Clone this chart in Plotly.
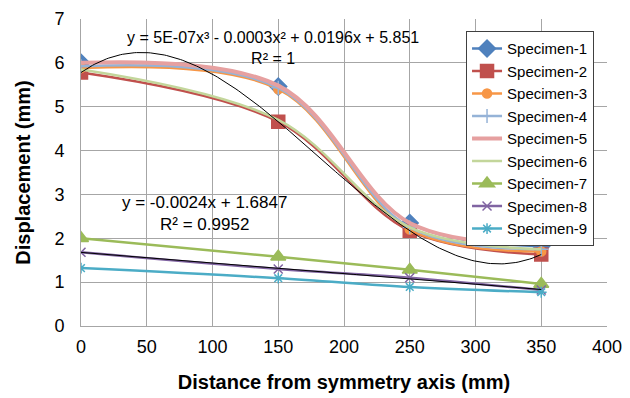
import numpy as np
import plotly.graph_objects as go

x_pos = [0, 150, 250, 350]
names = ["Specimen-1", "Specimen-2", "Specimen-3", "Specimen-4", "Specimen-5",
         "Specimen-6", "Specimen-7", "Specimen-8", "Specimen-9"]
s1 = [6.00, 5.46, 2.35, 1.82]
s2 = [5.78, 4.66, 2.17, 1.63]
s3 = [5.88, 5.40, 2.20, 1.70]
s4 = [5.92, 5.43, 2.25, 1.75]
s5 = [6.00, 5.48, 2.35, 1.88]
s6 = [5.85, 4.70, 2.25, 1.75]
s7 = [2.00, 1.58, 1.28, 0.96]
s8 = [1.68, 1.30, 1.10, 0.82]
s9 = [1.32, 1.09, 0.89, 0.77]
series = [s1, s2, s3, s4, s5, s6, s7, s8, s9]
colors = ["#4F81BD", "#C0504D", "#F79646", "#95B3D7", "#E6A0A0",
          "#C3D69B", "#9BBB59", "#8064A2", "#4BACC6"]
symbols = ["diamond", "square", "circle", "cross-thin", None, None,
           "triangle-up", "x-thin", "asterisk"]
msizes = [13, 13, 9, 10, 0, 0, 13, 9, 9]
widths = [2.5, 2.5, 2.5, 2.5, 4, 2.5, 2.5, 2.5, 2.5]
x_ticks = [0, 50, 100, 150, 200, 250, 300, 350, 400]
y_ticks = [0, 1, 2, 3, 4, 5, 6, 7]

fig = go.Figure()
for i in range(9):
    sym = symbols[i]
    mode = "lines+markers" if sym else "lines"
    marker = dict(symbol=sym, size=msizes[i], color=colors[i],
                  line=dict(width=1.5, color=colors[i])) if sym else None
    fig.add_trace(go.Scatter(
        x=x_pos, y=series[i], name=names[i], mode=mode,
        line=dict(color=colors[i], width=widths[i], shape="spline", smoothing=1.0),
        marker=marker))

# trendlines
xs = np.linspace(0, 350, 200)
c3 = np.polyfit(x_pos, s2, 3)
fig.add_trace(go.Scatter(x=xs, y=np.polyval(c3, xs), mode="lines",
                         line=dict(color="black", width=1), showlegend=False))
c1 = np.polyfit(x_pos, s8, 1)
fig.add_trace(go.Scatter(x=xs, y=np.polyval(c1, xs), mode="lines",
                         line=dict(color="black", width=1), showlegend=False))

font = "Liberation Sans, Arial, sans-serif"
fig.add_annotation(x=0.365, y=0.975, xref="paper", yref="paper", showarrow=False,
                   text="y = 5E-07x³ - 0.0003x² + 0.0196x + 5.851<br>R² = 1",
                   font=dict(family=font, size=16, color="black"),
                   align="center", xanchor="center", yanchor="top")
fig.add_annotation(x=0.235, y=0.44, xref="paper", yref="paper", showarrow=False,
                   text="y = -0.0024x + 1.6847<br>R² = 0.9952",
                   font=dict(family=font, size=17, color="black"),
                   align="center", xanchor="center", yanchor="top")

grid = "#A6A6A6"
fig.update_layout(
    width=630, height=398,
    margin=dict(l=81, r=23, t=19, b=72),
    paper_bgcolor="white", plot_bgcolor="white",
    font=dict(family=font, color="black"),
    showlegend=True,
    legend=dict(x=0.732, y=0.96, xanchor="left", yanchor="top",
                bgcolor="white", bordercolor="#404040", borderwidth=1,
                font=dict(size=15, family=font), tracegroupgap=0,
                itemwidth=30),
    xaxis=dict(range=[0, 400], tickvals=x_ticks, showgrid=True, gridcolor=grid,
               gridwidth=1, showline=True, linecolor=grid, linewidth=1,
               ticks="", zeroline=False, tickfont=dict(size=18),
               ticklabelstandoff=4, automargin=False,
               title=dict(text="<b>Distance from symmetry axis (mm)</b>",
                          font=dict(size=20), standoff=19),
               mirror=False),
    yaxis=dict(range=[0, 7], tickvals=y_ticks, showgrid=True, gridcolor=grid,
               gridwidth=1, showline=True, linecolor=grid, linewidth=1,
               ticks="", zeroline=False, tickfont=dict(size=18),
               ticklabelstandoff=12, automargin=False,
               title=dict(text="<b>Displacement (mm)</b>",
                          font=dict(size=20), standoff=18)),
)
fig.write_html("out.html")
